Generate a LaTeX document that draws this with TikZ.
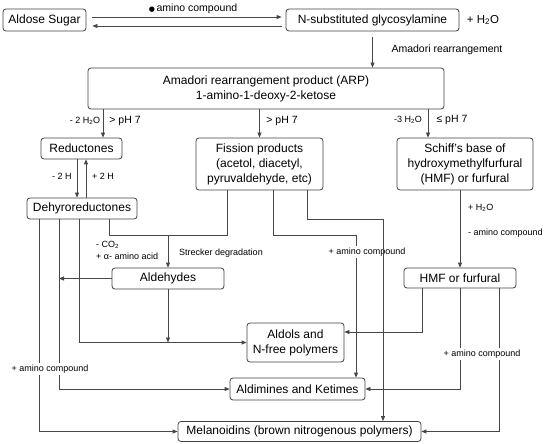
\documentclass[tikz,border=0pt]{standalone}
\usepackage{fontspec}
\setmainfont{Liberation Sans}
\newfontfamily\djv{DejaVu Sans}
\usetikzlibrary{arrows.meta}
\begin{document}
\begin{tikzpicture}[x=1pt,y=-1pt,
  box/.style={draw=black!75, line width=0.8pt, rounded corners=3pt, align=center, inner sep=0pt, font=\fontsize{12}{15}\selectfont},
  ln/.style={draw=black!72, line width=0.8pt},
  arr/.style={ln, -{Triangle[length=5pt,width=4pt]}},
  lab/.style={font=\fontsize{9}{11}\selectfont, inner sep=1pt},
  labm/.style={font=\fontsize{10.5}{12}\selectfont, inner sep=1pt},
  wlab/.style={lab, fill=white, inner sep=2pt}]
\useasboundingbox (0,0) rectangle (550,444);

% nodes
\node[box, minimum width=83pt, minimum height=22pt] (aldose) at (44.5,20) {Aldose Sugar};
\node[box, minimum width=173pt, minimum height=22pt] (nsub) at (372.5,20) {N-substituted glycosylamine};
\node[font=\fontsize{11.5}{13}\selectfont, inner sep=1pt] (water) at (483,20) {+ H\textsubscript{2}O};
\node[box, minimum width=356pt, minimum height=41pt] (arp) at (266,88.5) {Amadori rearrangement product (ARP)\\1-amino-1-deoxy-2-ketose};
\node[box, minimum width=81pt, minimum height=21pt] (red) at (81.5,148.5) {Reductones};
\node[box, minimum width=127pt, minimum height=52pt] (fis) at (259.5,164) {Fission products\\(acetol, diacetyl,\\pyruvaldehyde, etc)};
\node[box, minimum width=136pt, minimum height=52pt] (sch) at (465,164) {Schiff's base of\\hydroxymethylfurfural\\(HMF) or furfural};
\node[box, minimum width=110pt, minimum height=21pt] (dehy) at (82,208.5) {Dehyroreductones};
\node[box, minimum width=112pt, minimum height=21pt] (ald) at (168,278.5) {Aldehydes};
\node[box, minimum width=112pt, minimum height=20pt] (hmf) at (460,278) {HMF or furfural};
\node[box, minimum width=97pt, minimum height=39pt] (aldols) at (295.5,342.5) {Aldols and\\N-free polymers};
\node[box, minimum width=135pt, minimum height=22pt] (aldim) at (297.5,389) {Aldimines and Ketimes};
\node[box, minimum width=243pt, minimum height=20pt] (mel) at (299.5,431.5) {Melanoidins (brown nitrogenous polymers)};

% lane coordinates
\coordinate (rx) at (103,0);
\coordinate (sx) at (428,0);
\coordinate (dx1) at (39,0);
\coordinate (dx2) at (59,0);
\coordinate (dx3) at (79,0);
\coordinate (dx4) at (109,0);
\coordinate (fx1) at (227,0);
\coordinate (fx2) at (273,0);
\coordinate (fx3) at (307,0);
\coordinate (ax) at (356,0);
\coordinate (mx) at (383,0);
\coordinate (hx1) at (422,0);
\coordinate (hx3) at (499,0);
\coordinate (yA) at (0,235);
\coordinate (yB) at (0,219);
\coordinate (yC) at (0,332);
\coordinate (rdn) at (77,0);
\coordinate (rup) at (86,0);

% top
\draw[arr] ([xshift=6pt,yshift=3pt]aldose.east) -- ([xshift=-4pt,yshift=3pt]nsub.west);
\draw[arr] ([xshift=-4pt,yshift=-6pt]nsub.west) -- ([xshift=6pt,yshift=-6pt]aldose.east);
\node[labm] (lamino) at (193,9) {{\djv\fontsize{7}{9}\selectfont ●}\,amino compound};
\draw[arr] ([yshift=-6pt]nsub.south) -- (arp.north -| nsub.south);
\node[labm] (lamadori) at (447,50) {Amadori rearrangement};

% from ARP
\draw[arr] (rx |- arp.south) -- (rx |- red.north);
\node[lab] (l1) at (85,121) {- 2 H\textsubscript{2}O};
\node[labm] (l2) at (125,121) {> pH 7};
\draw[arr] (arp.south -| fis.north) -- (fis.north);
\node[labm] (l3) at (282,121) {> pH 7};
\draw[arr] (sx |- arp.south) -- (sx |- sch.north);
\node[lab] (l4) at (408,120) {-3 H\textsubscript{2}O};
\node[labm] (l5) at (452,120) {≤ pH 7};

% reductones <-> dehydroreductones
\draw[arr] (rdn |- red.south) -- (rdn |- dehy.north);
\draw[arr] (rup |- dehy.north) -- (rup |- red.south);
\node[lab] (l6) at (62,176) {- 2 H};
\node[lab] (l7) at (103,176) {+ 2 H};

% Dehydroreductones & fission -> aldehydes
\draw[ln] (dx4 |- dehy.south) |- (fx1 |- yA) -- (fx1 |- fis.south);
\draw[arr] (ald.north |- yA) -- (ald.north);
\node[lab, anchor=west] (l8) at (95,245) {- CO\textsubscript{2}};
\node[lab, anchor=west] (l9) at (95,256) {+ α- amino acid};
\node[lab] (l10) at (221,253) {Strecker degradation};

\draw[arr] (dx3 |- dehy.south) |- (aldols.west);
\draw[arr] (ald.south) -- (ald.south |- aldols.west);
\draw[arr] (ald.west) -- (ald.west -| dx2);
\draw[arr] (dx2 |- dehy.south) |- (aldim.west);
\draw[arr] (dx1 |- dehy.south) |- (mel.west);
\node[wlab] (l11) at (50,369) {+ amino compound};

% fission lanes
\draw[arr] (fx2 |- fis.south) |- (ax |- yA) -- (ax |- aldim.north);
\node[wlab] (l12) at (367,252) {+ amino compound};
\draw[arr] (fx3 |- fis.south) |- (mx |- yB) -- (mx |- mel.north);

% Schiff -> HMF
\draw[arr] (hmf.north |- sch.south) -- (hmf.north);
\node[lab, anchor=west] (l13) at (467,208) {+ H\textsubscript{2}O};
\node[lab, anchor=west] (l14) at (467,233) {- amino compound};

% HMF lanes
\draw[arr] (hx1 |- hmf.south) |- (aldols.east |- yC);
\draw[arr] (hmf.south) |- (aldim.east);
\draw[arr] (hx3 |- hmf.south) |- (mel.east);
\node[wlab] (l15) at (482,354) {+ amino compound};
\end{tikzpicture}
\end{document}
